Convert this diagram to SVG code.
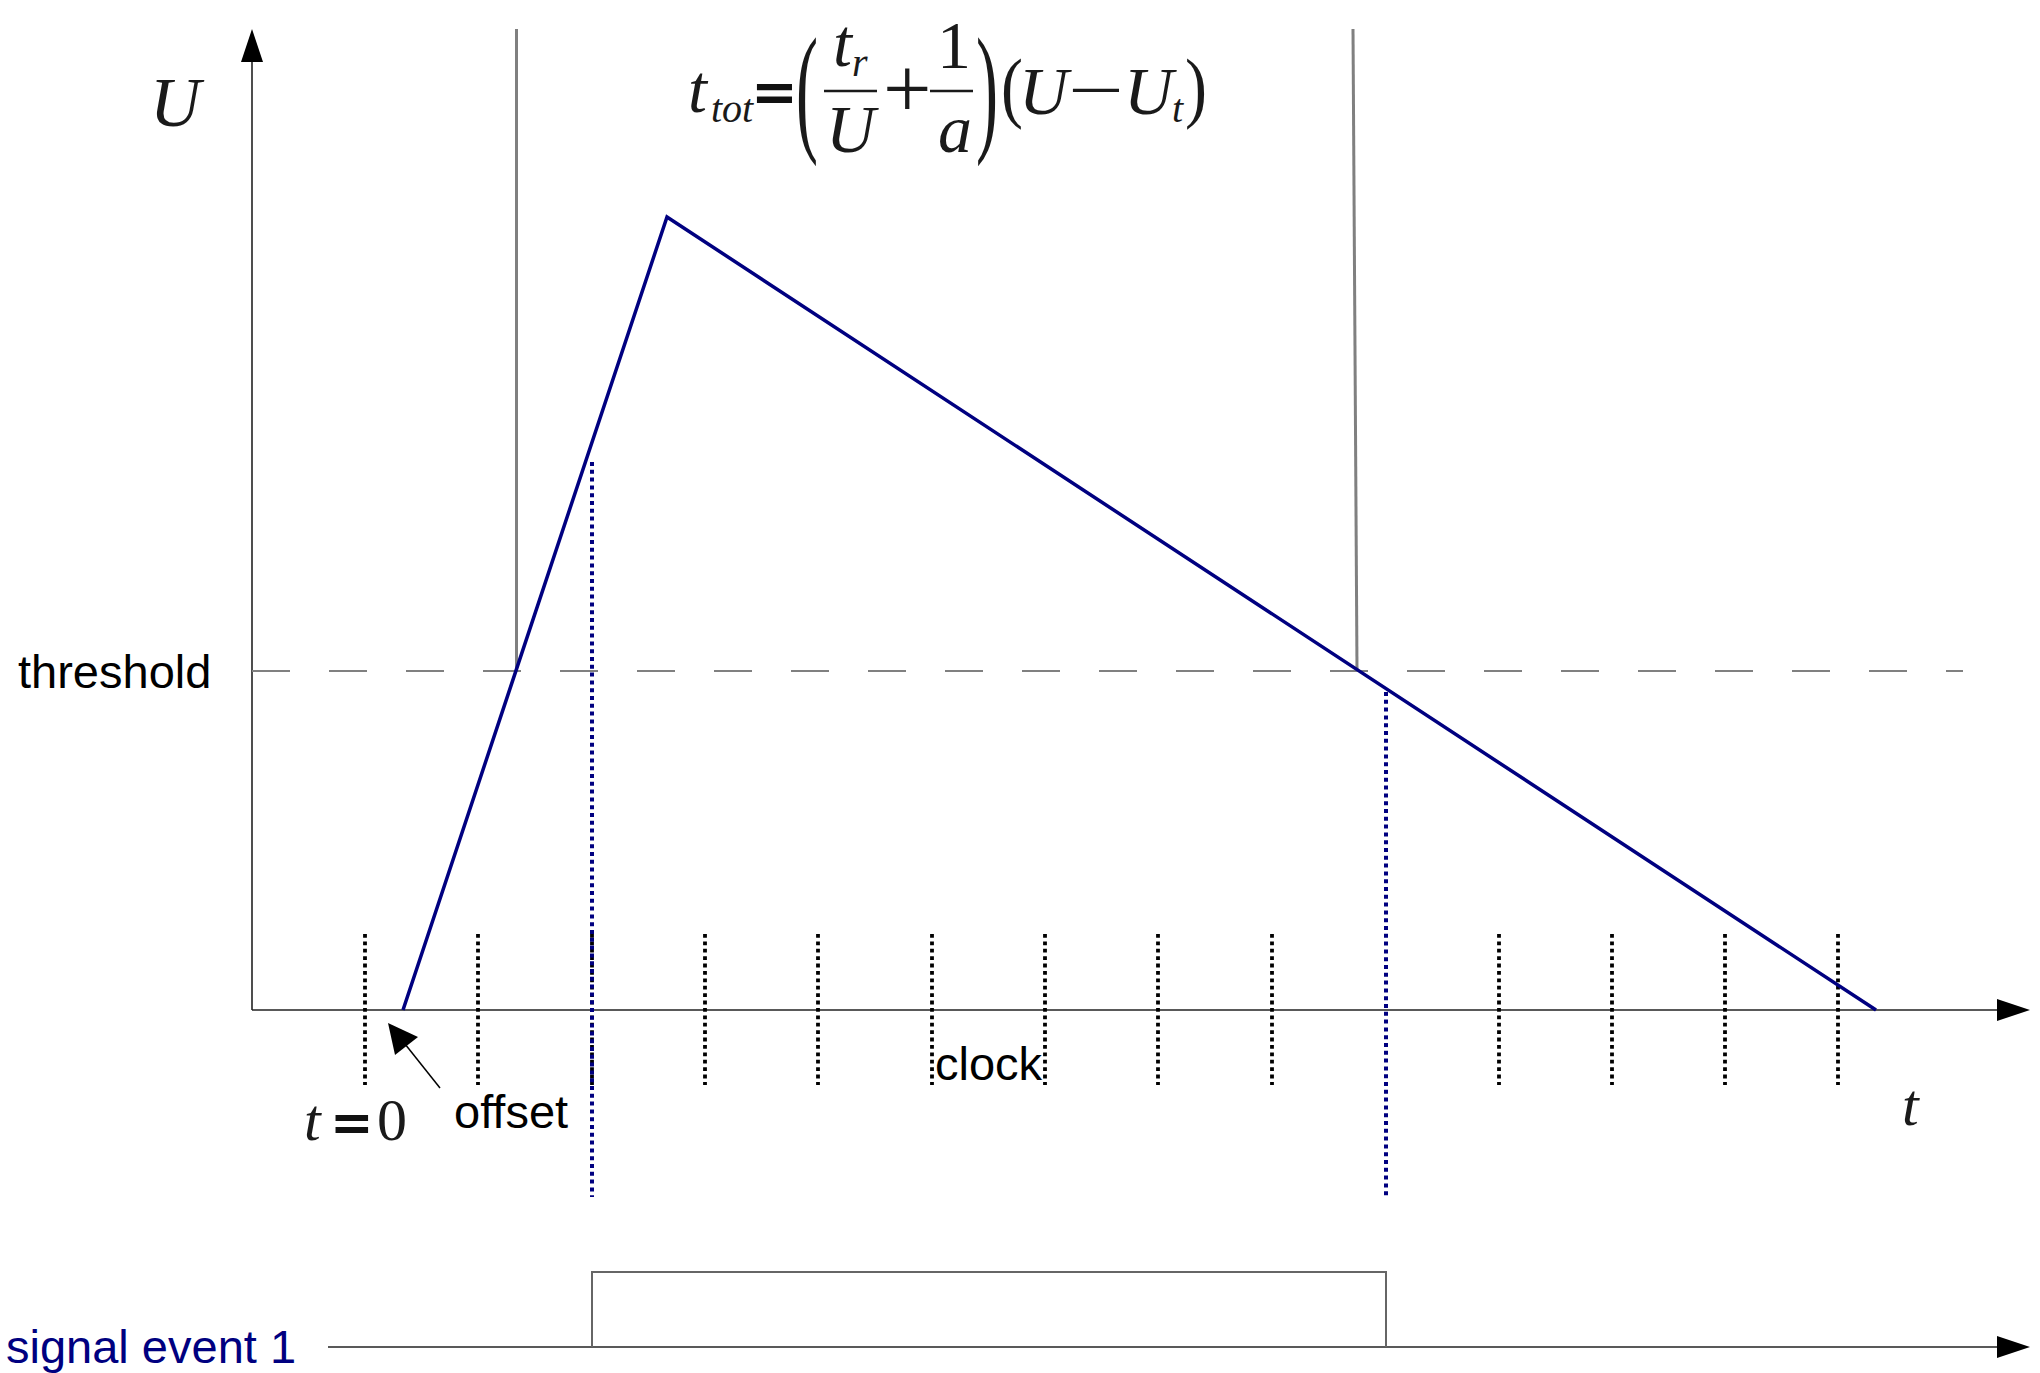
<svg xmlns="http://www.w3.org/2000/svg" width="2040" height="1373" viewBox="0 0 2040 1373">
<style>
.axis{stroke:#222;stroke-width:1.6;fill:none}
.head{fill:#000}
.gray{stroke:#808080;stroke-width:3;fill:none}
.thr{stroke:#808080;stroke-width:2;stroke-dasharray:38 39;fill:none}
.sig{stroke:#000080;stroke-width:3.5;fill:none;stroke-linejoin:miter}
.bdot{stroke:#000080;stroke-width:4;stroke-dasharray:4 3.8;fill:none}
.kdot{stroke:#000;stroke-width:3.8;stroke-dasharray:3.8 3.6;fill:none}
.pulse{stroke:#666;stroke-width:2;fill:none}
.lab{font-family:"Liberation Sans",Arial,sans-serif;font-size:47px;fill:#000}
.m{font-family:"Liberation Serif","Times New Roman",serif;font-style:italic;fill:#1a1a1a}
.mu{font-family:"Liberation Serif","Times New Roman",serif;fill:#1a1a1a}
.eq{font-family:"DejaVu Sans",sans-serif;font-weight:bold;fill:#111}
.bar{stroke:#1a1a1a;stroke-width:2.5}
</style>
<rect width="2040" height="1373" fill="#fff"/>
<g id="connectors">
  <g id="y-axis"><line class="axis" x1="252" y1="1010" x2="252" y2="55"/><polygon class="head" points="252,29 241,62 263,62"/></g>
  <g id="x-axis"><line class="axis" x1="252" y1="1010" x2="2000" y2="1010"/><polygon class="head" points="2030,1010 1997,999 1997,1021"/></g>
  <line id="threshold-line" class="thr" x1="252" y1="671" x2="1963" y2="671"/>
  <line class="gray" x1="516.5" y1="29" x2="516.5" y2="671"/>
  <line class="gray" x1="1353" y1="29" x2="1357" y2="671"/>
  <g id="clock-ticks">
    <line class="kdot" x1="365" y1="934" x2="365" y2="1085"/>
    <line class="kdot" x1="478" y1="934" x2="478" y2="1085"/>
    <line class="kdot" x1="592" y1="934" x2="592" y2="1085"/>
    <line class="kdot" x1="705" y1="934" x2="705" y2="1085"/>
    <line class="kdot" x1="818" y1="934" x2="818" y2="1085"/>
    <line class="kdot" x1="932" y1="934" x2="932" y2="1085"/>
    <line class="kdot" x1="1045" y1="934" x2="1045" y2="1085"/>
    <line class="kdot" x1="1158" y1="934" x2="1158" y2="1085"/>
    <line class="kdot" x1="1272" y1="934" x2="1272" y2="1085"/>
    <line class="kdot" x1="1499" y1="934" x2="1499" y2="1085"/>
    <line class="kdot" x1="1612" y1="934" x2="1612" y2="1085"/>
    <line class="kdot" x1="1725" y1="934" x2="1725" y2="1085"/>
    <line class="kdot" x1="1838" y1="934" x2="1838" y2="1085"/>
  </g>
  <line class="bdot" x1="592" y1="462" x2="592" y2="1197"/>
  <line class="bdot" x1="1386" y1="692" x2="1386" y2="1197"/>
  <polyline id="pulse-signal" class="sig" points="403,1010 667,217 1876,1010"/>
  <line stroke="#000" stroke-width="1.5" x1="440" y1="1088" x2="405" y2="1044"/>
  <polygon class="head" points="388,1023 395,1055 418,1037"/>
  <line class="axis" x1="328" y1="1347" x2="2000" y2="1347"/>
  <polygon class="head" points="2030,1347 1997,1336 1997,1358"/>
  <polyline class="pulse" points="592,1347 592,1272 1386,1272 1386,1347"/>
</g>
<g id="label-U"><text class="m" x="150" y="126" font-size="70">U</text></g>
<g id="label-threshold"><text class="lab" x="18" y="688">threshold</text></g>
<g id="label-offset"><text class="lab" x="454" y="1128">offset</text></g>
<g id="label-clock"><text class="lab" x="935" y="1080">clock</text></g>
<g id="label-signal"><text class="lab" x="6" y="1363" style="fill:#000080">signal event 1</text></g>
<g id="label-t0">
  <text class="m" x="304" y="1140" font-size="60">t</text>
  <text class="eq" x="330" y="1140" font-size="52">=</text>
  <text class="mu" x="377" y="1140" font-size="60">0</text>
</g>
<g id="label-t"><text class="m" x="1902" y="1125" font-size="60">t</text></g>
<g id="formula">
  <text class="m" x="688" y="112" font-size="68">t</text>
  <text class="m" x="711" y="122" font-size="40">tot</text>
  <text class="eq" x="751" y="111" font-size="56">=</text>
  <text class="mu" font-size="66" transform="translate(796,136) scale(1,2.15)">(</text>
  <text class="m" x="833" y="66" font-size="68">t</text>
  <text class="m" x="852" y="76" font-size="40">r</text>
  <line class="bar" x1="824" y1="91" x2="877" y2="91"/>
  <text class="m" x="826" y="152" font-size="68">U</text>
  <text class="mu" x="883" y="118" font-size="86">+</text>
  <text class="mu" x="937" y="68" font-size="68">1</text>
  <line class="bar" x1="930" y1="91" x2="973" y2="91"/>
  <text class="m" x="938" y="152" font-size="68">a</text>
  <text class="mu" font-size="66" transform="translate(976,136) scale(1,2.15)">)</text>
  <text class="mu" font-size="66" transform="translate(1001,113) scale(1,1.2)">(</text>
  <text class="m" x="1019" y="114" font-size="68">U</text>
  <text class="mu" font-size="66" transform="translate(1068,112) scale(1.5,1)">−</text>
  <text class="m" x="1124" y="114" font-size="68">U</text>
  <text class="m" x="1172" y="122" font-size="40">t</text>
  <text class="mu" font-size="66" transform="translate(1185,113) scale(1,1.2)">)</text>
</g>
</svg>
